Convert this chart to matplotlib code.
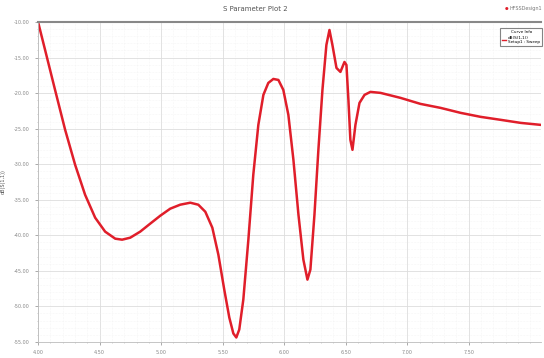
import matplotlib
matplotlib.use("Agg")
import matplotlib.pyplot as plt
from matplotlib.ticker import MultipleLocator

freq_ghz = [4.000, 4.057, 4.138, 4.220, 4.301, 4.382, 4.464, 4.545, 4.627, 4.683,
            4.749, 4.830, 4.911, 4.993, 5.074, 5.155, 5.237, 5.302, 5.359, 5.416,
            5.465, 5.513, 5.554, 5.587, 5.611, 5.635, 5.668, 5.709, 5.749, 5.790,
            5.831, 5.871, 5.912, 5.953, 5.993, 6.034, 6.075, 6.116, 6.156, 6.189,
            6.213, 6.246, 6.278, 6.311, 6.343, 6.368, 6.392, 6.425, 6.457, 6.490,
            6.506, 6.522, 6.538, 6.555, 6.579, 6.612, 6.653, 6.701, 6.783, 6.945,
            7.108, 7.271, 7.434, 7.596, 7.759, 7.922, 8.085]
s11_db = [-10.00, -13.93, -19.55, -25.17, -30.08, -34.30, -37.53, -39.49, -40.48, -40.62,
          -40.34, -39.49, -38.37, -37.25, -36.26, -35.70, -35.42, -35.70, -36.69, -38.93,
          -42.72, -47.64, -51.57, -53.82, -54.38, -53.26, -49.04, -40.62, -31.49, -24.47,
          -20.25, -18.57, -18.01, -18.15, -19.55, -23.06, -29.38, -37.11, -43.43, -46.24,
          -44.83, -37.11, -27.98, -19.55, -13.23, -11.12, -13.23, -16.46, -17.02, -15.62,
          -16.04, -20.96, -26.57, -27.98, -24.47, -21.38, -20.25, -19.83, -19.97, -20.67,
          -21.52, -22.08, -22.78, -23.34, -23.76, -24.19, -24.47]

x_ticks = [4.0, 4.5, 5.0, 5.5, 6.0, 6.5, 7.0, 7.5]
x_tick_labels = ["4.00", "4.50", "5.00", "5.50", "6.00", "6.50", "7.00", "7.50"]
y_ticks = [-10, -15, -20, -25, -30, -35, -40, -45, -50, -55]
y_tick_labels = ["%.2f" % v for v in y_ticks]

fig = plt.figure(figsize=(5.44, 3.58), dpi=100)
ax = fig.add_axes([0.070, 0.045, 0.924, 0.8935])

ax.plot(freq_ghz, s11_db, color="#e01e2a", lw=1.8, solid_joinstyle="round")

ax.set_xlim(4.0, 8.085)
ax.set_ylim(-55, -10)
ax.set_xticks(x_ticks)
ax.set_xticklabels(x_tick_labels)
ax.set_yticks(y_ticks)
ax.set_yticklabels(y_tick_labels)
ax.xaxis.set_minor_locator(MultipleLocator(0.1))
ax.yaxis.set_minor_locator(MultipleLocator(1.0))
ax.tick_params(axis="both", which="major", labelsize=3.5, colors="#888888",
               length=2, width=0.5, pad=4)
ax.tick_params(axis="both", which="minor", length=1, width=0.4, colors="#aaaaaa")
ax.grid(True, which="major", color="#dddddd", lw=0.6)
ax.grid(True, which="minor", color="#eeeeee", lw=0.4, ls=":")

for side in ["left", "right", "bottom"]:
    ax.spines[side].set_color("#bbbbbb")
    ax.spines[side].set_linewidth(0.6)
ax.spines["right"].set_visible(False)
ax.spines["top"].set_color("#888888")
ax.spines["top"].set_linewidth(1.5)

ax.set_ylabel("dB(S(1,1))", fontsize=3.5, color="#555555", labelpad=6)

fig.text(0.47, 0.975, "S Parameter Plot 2", fontsize=5, color="#555555",
         ha="center", va="center")
fig.text(0.997, 0.975, "HFSSDesign1", fontsize=3.5, color="#777777",
         ha="right", va="center")
fig.text(0.931, 0.975, "\u25cf", fontsize=3, color="#e01e2a", ha="center", va="center")

lg = ax.legend([plt.Line2D([0], [0], color="#e01e2a", lw=1)], ["dB(S(1,1))\nSetup1 : Sweep"],
               loc="upper right", bbox_to_anchor=(1.0045, 0.985), fontsize=3,
               title="Curve Info", title_fontsize=3, frameon=True,
               handlelength=1.0, handletextpad=0.4, borderpad=0.5, borderaxespad=0.2)
lg.get_frame().set_edgecolor("#666666")
lg.get_frame().set_linewidth(0.8)

fig.savefig("out.png", dpi=100, facecolor="white")
